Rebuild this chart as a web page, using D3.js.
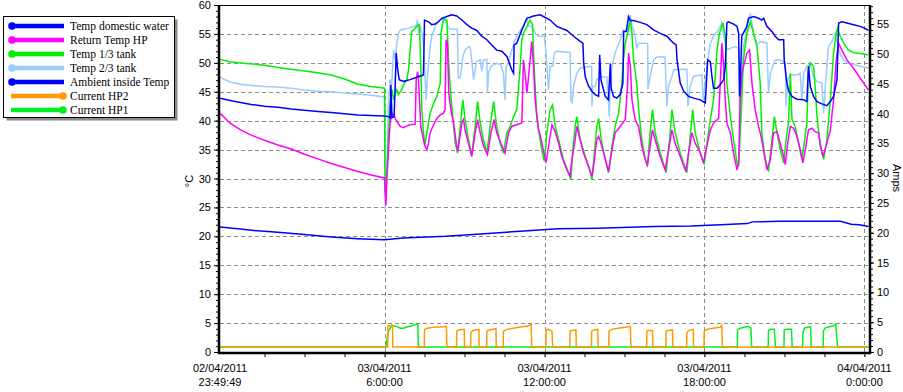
<!DOCTYPE html>
<html lang="en">
<head>
<meta charset="utf-8" />
<title>Heat pump log</title>
<script src="https://d3js.org/d3.v7.min.js"></script>
<style>
  body { margin: 0; background: #fff; }
  svg text { font-family: Arial, "Liberation Sans", sans-serif; fill: #000; }
  .legend text { font-family: "Times New Roman", "Liberation Serif", serif; }
</style>
</head>
<body>
<div id="chart"></div>
<script>
// time in hours from 03/04/2011 0:00, temperatures in degC, currents in Amps
const tempDomestic = [[-0.17,43.9],[0.3,43.4],[1,42.8],[1.5,42.5],[2,42.3],[2.5,42.0],[3,41.8],[3.5,41.6],[4,41.4],[4.5,41.2],[5,41.0],[5.5,40.9],[6.0,40.8],[6.15,40.7],[6.21,40.5],[6.24,46.2],[6.28,40.5],[6.36,40.7],[6.44,51.7],[6.49,49.0],[6.55,47.1],[6.71,46.8],[6.96,47.1],[7.27,47.6],[7.46,47.9],[7.5,57.4],[7.65,57.1],[7.77,56.6],[7.9,56.7],[8.02,57.1],[8.15,57.7],[8.34,58.0],[8.52,58.3],[8.71,58.1],[8.9,57.4],[9.09,56.6],[9.27,56.0],[9.46,55.6],[9.65,54.6],[9.84,54.0],[10.02,53.1],[10.21,52.2],[10.4,52.0],[10.59,51.1],[10.77,48.8],[10.84,48.2],[10.86,53.1],[10.96,53.4],[11.15,55.7],[11.34,57.7],[11.59,58.1],[11.84,58.3],[12.21,57.4],[12.46,56.3],[12.84,55.6],[13.09,54.6],[13.34,53.7],[13.44,53.4],[13.47,49.9],[13.53,47.6],[13.65,46.0],[13.78,45.1],[13.9,44.5],[14.03,44.2],[14.07,51.4],[14.12,47.0],[14.28,44.2],[14.4,43.6],[14.47,49.9],[14.5,45.6],[14.59,44.2],[14.71,43.9],[14.84,44.5],[14.94,46.5],[14.97,55.4],[15.07,55.4],[15.15,58.0],[15.22,57.3],[15.34,57.3],[15.59,57.0],[15.84,56.6],[16.09,55.7],[16.34,55.1],[16.59,54.6],[16.84,53.4],[16.94,53.1],[16.97,50.5],[17.09,46.5],[17.22,45.1],[17.4,44.2],[17.59,43.9],[17.84,43.6],[18.03,43.1],[18.12,50.5],[18.22,50.2],[18.28,47.6],[18.34,45.6],[18.47,45.6],[18.59,46.2],[18.72,47.1],[18.78,49.4],[18.84,56.9],[18.9,57.1],[19.09,56.7],[19.22,56.3],[19.28,55.1],[19.32,44.2],[19.4,54.6],[19.59,56.3],[19.65,57.7],[19.84,58.0],[20.03,57.7],[20.15,57.4],[20.22,57.7],[20.34,56.3],[20.53,55.4],[20.65,54.6],[20.78,54.0],[20.97,54.0],[20.99,50.5],[21.09,46.5],[21.15,45.3],[21.28,44.2],[21.47,43.7],[21.72,43.6],[21.84,43.3],[21.9,49.4],[21.97,45.9],[22.09,44.2],[22.22,43.3],[22.4,42.9],[22.59,42.6],[22.72,43.3],[22.84,44.2],[22.97,47.1],[23.03,56.9],[23.15,57.1],[23.34,56.9],[23.59,56.6],[23.84,56.3],[24.0,56.0],[24.15,55.6]];

const returnTempHP = [[-0.17,41.3],[0.2,39.6],[0.6,38.4],[1,37.5],[1.5,36.6],[2,35.8],[2.5,35.1],[3,34.2],[3.5,33.4],[4,32.6],[4.5,31.9],[5,31.2],[5.5,30.6],[6.0,30.1],[6.05,25.4],[6.09,30.0],[6.15,35.0],[6.21,39.6],[6.27,41.3],[6.34,41.0],[6.46,39.9],[6.59,39.0],[6.71,38.8],[6.84,39.1],[6.96,39.3],[7.15,39.4],[7.19,47.1],[7.24,48.5],[7.27,47.6],[7.31,43.6],[7.36,39.0],[7.46,36.7],[7.52,35.6],[7.59,35.0],[7.65,36.1],[7.71,37.9],[7.84,39.3],[7.96,40.4],[8.09,41.0],[8.21,41.3],[8.27,41.9],[8.31,54.0],[8.36,53.4],[8.41,44.8],[8.49,41.9],[8.59,39.6],[8.69,36.1],[8.75,34.7],[8.81,36.7],[8.9,39.6],[8.96,40.2],[9.02,38.4],[9.15,36.1],[9.27,33.8],[9.4,37.9],[9.49,40.2],[9.59,37.9],[9.71,35.6],[9.86,34.1],[9.99,37.9],[10.11,40.2],[10.21,37.9],[10.36,36.1],[10.52,34.4],[10.65,37.9],[10.77,39.0],[10.96,39.3],[11.15,39.6],[11.21,50.5],[11.27,48.2],[11.34,44.8],[11.44,49.4],[11.52,53.7],[11.59,49.4],[11.65,43.6],[11.77,38.5],[11.84,37.5],[11.96,34.8],[12.06,32.8],[12.19,36.7],[12.28,39.3],[12.4,38.1],[12.53,36.1],[12.65,33.8],[12.84,31.5],[12.96,30.4],[13.03,33.3],[13.15,36.7],[13.21,39.0],[13.34,36.7],[13.46,34.4],[13.65,32.1],[13.78,30.4],[13.84,32.1],[13.96,36.7],[14.03,37.3],[14.15,35.6],[14.28,33.3],[14.4,31.2],[14.53,35.0],[14.65,37.9],[14.84,39.0],[15.03,40.2],[15.12,46.5],[15.15,51.7],[15.22,49.4],[15.28,43.6],[15.4,40.2],[15.53,39.0],[15.65,35.6],[15.78,33.3],[15.86,32.4],[15.96,35.6],[16.05,38.4],[16.15,36.7],[16.34,33.8],[16.53,31.5],[16.65,34.9],[16.78,38.4],[16.9,36.1],[17.09,33.8],[17.3,31.2],[17.4,34.4],[17.53,37.9],[17.65,36.1],[17.84,34.5],[17.96,32.7],[18.09,35.6],[18.22,38.4],[18.34,39.6],[18.53,40.4],[18.62,49.4],[18.65,53.4],[18.72,49.4],[18.78,43.6],[18.84,39.6],[18.97,37.9],[19.09,34.4],[19.22,31.5],[19.28,32.7],[19.34,43.6],[19.4,48.2],[19.59,51.7],[19.69,52.2],[19.78,46.5],[19.9,41.9],[20.03,39.0],[20.15,36.7],[20.34,31.5],[20.47,33.3],[20.59,37.9],[20.72,38.1],[20.84,36.1],[20.97,33.8],[21.03,32.4],[21.12,36.1],[21.22,39.0],[21.34,38.7],[21.47,37.3],[21.59,35.0],[21.69,32.7],[21.78,35.0],[21.9,38.4],[22.03,38.7],[22.15,38.1],[22.28,37.9],[22.34,36.1],[22.44,33.8],[22.56,35.6],[22.72,38.4],[22.84,43.6],[22.94,50.5],[23.03,53.4],[23.15,52.2],[23.34,50.5],[23.53,49.4],[23.72,48.2],[23.97,46.5],[24.15,45.3]];

const tempTank13 = [[-0.17,50.6],[0.2,50.2],[0.8,49.9],[1.5,49.6],[2,49.2],[2.5,48.9],[3,48.6],[3.5,48.3],[4,47.9],[4.5,47.2],[5,46.3],[5.5,45.9],[6.0,45.6],[6.02,27.5],[6.09,31.0],[6.15,37.9],[6.21,42.5],[6.28,45.4],[6.34,43.6],[6.4,44.8],[6.46,45.4],[6.52,44.5],[6.65,45.4],[6.71,46.2],[6.84,47.1],[6.9,48.8],[6.96,52.2],[7.02,55.4],[7.09,55.7],[7.21,56.3],[7.31,56.6],[7.36,49.4],[7.4,41.9],[7.46,37.9],[7.52,35.9],[7.59,37.9],[7.71,41.3],[7.84,43.0],[7.96,44.2],[8.09,46.5],[8.12,55.1],[8.21,57.7],[8.34,57.4],[8.4,50.5],[8.46,45.9],[8.56,40.7],[8.65,36.1],[8.74,34.4],[8.84,39.0],[8.94,43.6],[9.02,40.2],[9.15,36.7],[9.27,34.1],[9.4,39.0],[9.49,43.3],[9.59,39.6],[9.71,36.7],[9.84,34.4],[9.96,39.0],[10.09,43.3],[10.21,39.0],[10.34,36.1],[10.46,34.4],[10.59,37.9],[10.71,39.0],[10.84,40.7],[10.96,41.9],[11.09,49.4],[11.15,54.0],[11.21,55.1],[11.34,56.3],[11.46,57.4],[11.55,56.6],[11.61,49.4],[11.71,40.7],[11.84,36.5],[11.96,33.5],[12.0,33.0],[12.09,37.9],[12.21,41.9],[12.3,42.7],[12.4,39.0],[12.53,36.7],[12.71,33.3],[12.9,31.0],[12.99,29.8],[13.06,35.0],[13.15,39.0],[13.21,40.7],[13.34,36.7],[13.53,33.8],[13.69,31.5],[13.78,29.8],[13.87,34.4],[13.96,39.0],[14.03,40.4],[14.15,36.1],[14.28,33.3],[14.4,31.0],[14.53,35.6],[14.65,39.0],[14.78,41.3],[14.9,46.5],[14.96,50.5],[15.03,53.4],[15.12,55.1],[15.22,57.4],[15.28,55.1],[15.34,50.5],[15.46,46.5],[15.53,41.9],[15.65,36.7],[15.78,33.3],[15.86,32.1],[15.96,37.9],[16.05,41.9],[16.15,37.9],[16.34,34.4],[16.56,31.0],[16.69,36.7],[16.78,41.9],[16.9,37.9],[17.09,34.4],[17.34,31.0],[17.44,36.1],[17.56,41.9],[17.65,37.9],[17.84,34.4],[17.99,32.4],[18.09,36.1],[18.22,40.2],[18.34,43.6],[18.47,52.2],[18.56,55.1],[18.69,56.9],[18.78,54.6],[18.84,46.5],[18.97,40.7],[19.09,36.7],[19.22,32.7],[19.28,32.1],[19.4,43.6],[19.46,50.5],[19.59,55.1],[19.72,57.1],[19.84,55.1],[19.97,52.8],[20.09,46.5],[20.15,37.9],[20.28,33.3],[20.4,31.2],[20.53,36.7],[20.62,40.7],[20.72,37.9],[20.84,35.0],[20.97,32.7],[21.06,36.7],[21.15,39.6],[21.22,48.2],[21.28,40.2],[21.4,39.0],[21.53,36.1],[21.65,33.3],[21.74,36.1],[21.84,39.6],[21.9,48.8],[21.97,50.0],[22.09,49.4],[22.15,45.9],[22.22,40.7],[22.34,35.6],[22.47,33.3],[22.59,36.7],[22.72,43.6],[22.84,51.7],[22.94,55.1],[22.99,56.0],[23.09,54.6],[23.22,53.4],[23.4,52.2],[23.59,51.8],[23.84,51.6],[24.15,51.4]];

const tempTank23 = [[-0.17,47.5],[0.2,46.7],[0.6,46.3],[1,46.1],[1.5,45.9],[2,45.8],[2.5,45.6],[3,45.3],[3.5,45.1],[4,45.0],[4.5,44.8],[5,44.6],[5.5,44.4],[6.0,44.1],[6.03,24.6],[6.09,30.9],[6.15,43.6],[6.21,47.1],[6.27,46.2],[6.34,52.2],[6.4,50.5],[6.46,53.4],[6.52,55.1],[6.59,55.7],[6.71,55.8],[6.9,56.0],[7.09,56.3],[7.19,56.4],[7.24,57.4],[7.27,55.1],[7.34,56.3],[7.4,55.1],[7.46,53.4],[7.52,47.6],[7.56,43.6],[7.61,47.6],[7.71,52.8],[7.77,54.6],[7.9,56.3],[8.02,57.1],[8.15,57.7],[8.27,57.4],[8.4,56.0],[8.52,55.8],[8.73,55.8],[8.77,47.4],[8.84,47.4],[8.94,51.1],[9.02,52.2],[9.15,52.8],[9.21,52.8],[9.27,50.5],[9.34,47.1],[9.4,48.8],[9.46,50.2],[9.59,50.5],[9.65,48.5],[9.71,50.5],[9.84,50.6],[9.86,44.8],[9.9,48.2],[9.99,49.4],[10.09,49.7],[10.21,49.9],[10.36,49.7],[10.46,48.2],[10.52,43.6],[10.56,49.4],[10.65,49.9],[10.77,52.2],[10.9,54.0],[11.02,55.1],[11.21,56.3],[11.34,57.7],[11.4,56.3],[11.52,56.3],[11.65,55.1],[11.77,54.6],[11.99,54.6],[12.06,51.7],[12.15,45.4],[12.21,49.4],[12.31,49.4],[12.37,51.7],[12.46,52.0],[12.96,51.8],[12.99,43.6],[13.03,43.0],[13.09,45.9],[13.21,48.2],[13.34,49.1],[13.77,49.4],[13.78,42.5],[13.81,45.9],[13.9,45.9],[13.96,47.1],[14.09,47.6],[14.34,47.5],[14.43,40.7],[14.46,45.9],[14.53,49.4],[14.65,51.7],[14.84,54.0],[14.96,55.7],[15.15,55.7],[15.22,58.3],[15.28,56.6],[15.4,54.6],[15.46,52.5],[15.53,53.4],[15.65,53.4],[15.87,53.4],[15.88,45.4],[15.96,47.6],[16.09,50.5],[16.21,51.0],[16.52,51.0],[16.59,42.5],[16.65,45.9],[16.78,47.7],[16.84,48.8],[17.34,48.9],[17.38,42.5],[17.46,45.9],[17.59,47.7],[17.9,47.9],[17.96,43.6],[18.09,49.4],[18.22,53.4],[18.34,54.6],[18.53,55.7],[18.65,56.9],[18.72,54.6],[18.84,52.3],[18.97,52.5],[19.15,52.8],[19.28,52.5],[19.32,39.6],[19.37,46.5],[19.47,52.8],[19.59,56.3],[19.72,58.6],[19.84,55.1],[19.97,53.1],[20.09,53.7],[20.34,53.4],[20.4,44.8],[20.47,48.2],[20.65,50.5],[20.84,50.5],[21.03,49.9],[21.06,42.5],[21.12,47.1],[21.22,47.9],[21.47,47.9],[21.59,48.2],[21.65,43.6],[21.72,48.2],[21.84,49.4],[21.97,49.9],[22.09,47.6],[22.22,46.8],[22.4,46.5],[22.47,41.3],[22.53,45.9],[22.65,52.8],[22.78,53.7],[22.9,55.1],[22.97,53.7],[23.09,51.4],[23.22,50.5],[23.4,49.9],[23.59,49.7],[23.84,49.4],[24.15,49.1]];

const ambientTemp = [[-0.17,21.6],[0.5,21.3],[1.1,21.0],[2,20.7],[3,20.3],[4,19.9],[5,19.6],[6,19.4],[6.7,19.7],[8.3,20.0],[9.6,20.4],[11.1,20.9],[12.5,21.3],[14,21.4],[16.1,21.7],[17.5,21.8],[18.6,22.0],[19.6,22.2],[19.8,22.5],[20.8,22.6],[23.1,22.6],[23.5,22.1],[23.8,22.0],[24.15,21.7]];

const currentHP2 = [[-0.17,0.85],[6.12,0.85],[6.13,4.4],[6.3,4.5],[6.31,0.85],[7.49,0.85],[7.5,3.7],[7.59,4.0],[7.77,4.1],[7.96,4.2],[8.15,4.2],[8.32,4.3],[8.34,0.85],[8.7,0.85],[8.71,3.5],[8.77,3.7],[8.99,3.8],[9.0,0.85],[9.23,0.85],[9.24,3.2],[9.31,3.6],[9.54,3.8],[9.55,0.85],[9.83,0.85],[9.84,3.5],[9.94,3.7],[10.18,3.9],[10.19,0.85],[10.45,0.85],[10.46,3.5],[10.59,3.8],[10.84,4.0],[11.09,4.2],[11.34,4.3],[11.5,4.6],[11.52,0.85],[12.05,0.85],[12.06,3.7],[12.15,3.8],[12.28,3.5],[12.31,0.85],[12.95,0.85],[12.96,3.5],[13.04,3.6],[13.18,3.7],[13.19,0.85],[13.76,0.85],[13.77,3.5],[13.86,3.7],[14.0,3.8],[14.01,0.85],[14.41,0.85],[14.42,3.5],[14.52,3.8],[14.77,4.0],[15.09,4.2],[15.22,4.3],[15.24,0.85],[15.83,0.85],[15.84,3.5],[15.9,3.6],[16.05,3.6],[16.06,0.85],[16.55,0.85],[16.56,3.5],[16.65,3.6],[16.8,3.7],[16.81,0.85],[17.33,0.85],[17.34,3.2],[17.4,3.6],[17.58,3.8],[17.59,0.85],[17.98,0.85],[17.99,3.5],[18.09,3.8],[18.34,4.0],[18.59,4.2],[18.65,4.5],[18.67,0.85],[24.15,0.85]];

const currentHP1 = [[-0.17,0.85],[6.05,0.85],[6.1,2.3],[6.15,3.5],[6.24,4.2],[6.34,4.4],[6.46,4.3],[6.59,4.0],[6.71,4.0],[6.84,4.2],[7.02,4.4],[7.15,4.6],[7.25,4.7],[7.27,0.85],[19.23,0.85],[19.24,3.7],[19.34,4.0],[19.53,4.2],[19.65,4.3],[19.74,4.0],[19.77,0.85],[20.39,0.85],[20.4,3.6],[20.47,3.8],[20.62,3.8],[20.66,0.85],[20.98,0.85],[20.99,3.7],[21.09,3.8],[21.26,3.8],[21.29,0.85],[21.68,0.85],[21.69,3.2],[21.75,4.0],[21.9,4.2],[21.98,4.2],[22.0,0.85],[22.45,0.85],[22.46,3.5],[22.52,4.0],[22.65,4.2],[22.84,4.4],[22.92,4.7],[22.99,0.85],[24.15,0.85]];

const seriesNames = ['Temp domestic water', 'Return Temp HP', 'Temp 1/3 tank', 'Temp 2/3 tank', 'Ambient inside Temp', 'Current HP2', 'Current HP1'];
const xLabelTimes = [new Date(2011, 3, 2, 23, 49, 49), new Date(2011, 3, 3, 6), new Date(2011, 3, 3, 12), new Date(2011, 3, 3, 18), new Date(2011, 3, 4, 0)];
const leftTicks = d3.range(0, 61, 5);
const rightTicks = d3.range(0, 56, 5);

const width = 903, height = 392;
const plotLeft = 220, plotRight = 869, plotTop = 5, plotBottom = 352;

const base = new Date(2011, 3, 3, 0, 0, 0);
const toDate = h => new Date(base.getTime() + h * 3600000);

const series = [
    { name: seriesNames[0], data: tempDomestic, color: '#0000ff', axis: 'L', marker: 'start' },
    { name: seriesNames[1], data: returnTempHP, color: '#ff00ff', axis: 'L', marker: 'start' },
    { name: seriesNames[2], data: tempTank13, color: '#00f000', axis: 'L', marker: 'start' },
    { name: seriesNames[3], data: tempTank23, color: '#99ccff', axis: 'L', marker: 'start' },
    { name: seriesNames[4], data: ambientTemp, color: '#0000ff', axis: 'L', marker: 'start' },
    { name: seriesNames[5], data: currentHP2, color: '#ff9900', axis: 'R', marker: 'end' },
    { name: seriesNames[6], data: currentHP1, color: '#00f020', axis: 'R', marker: 'end' }
];

const x = d3.scaleTime()
    .domain([new Date(2011, 3, 2, 23, 49, 49), new Date(2011, 3, 4, 0, 10, 11)])
    .range([plotLeft, plotRight]);
const yL = d3.scaleLinear().domain([0, 60]).range([plotBottom, plotTop]);
const yR = d3.scaleLinear().domain([0, 58.2]).range([plotBottom, plotTop]);

const svg = d3.select('#chart').append('svg')
    .attr('width', width)
    .attr('height', height);

svg.append('rect').attr('width', width).attr('height', height).attr('fill', '#fff');

svg.append('defs').append('clipPath').attr('id', 'plot')
    .append('rect')
    .attr('x', plotLeft).attr('y', plotTop)
    .attr('width', plotRight - plotLeft).attr('height', plotBottom - plotTop);

// grid
const grid = svg.append('g')
    .attr('stroke', '#8c8c8c')
    .attr('stroke-dasharray', '4,3');
grid.selectAll('line.h')
    .data(leftTicks.filter(d => d > 0 && d < 60))
    .enter().append('line')
    .attr('x1', plotLeft).attr('x2', plotRight)
    .attr('y1', d => Math.round(yL(d)) + 0.5).attr('y2', d => Math.round(yL(d)) + 0.5);
grid.selectAll('line.v')
    .data([6, 12, 18, 24])
    .enter().append('line')
    .attr('x1', d => Math.round(x(toDate(d))) + 0.5)
    .attr('x2', d => Math.round(x(toDate(d))) + 0.5)
    .attr('y1', plotTop).attr('y2', plotBottom + 5);

// lines, first legend entry drawn on top
const plot = svg.append('g').attr('clip-path', 'url(#plot)');
series.slice().reverse().forEach(s => {
    const yScale = s.axis === 'L' ? yL : yR;
    const line = d3.line()
        .x(d => x(toDate(d[0])))
        .y(d => yScale(d[1]));
    plot.append('path')
        .datum(s.data)
        .attr('fill', 'none')
        .attr('stroke', s.color)
        .attr('stroke-width', 1.5)
        .attr('d', line);
});

// axes
svg.append('g')
    .attr('transform', `translate(${plotLeft - 1},0)`)
    .call(d3.axisLeft(yL).tickValues(leftTicks).tickSize(5).tickPadding(3));
svg.append('g')
    .attr('transform', `translate(${plotLeft - 1},0)`)
    .call(d3.axisLeft(yL).tickValues(d3.range(0, 61, 1)).tickSize(3).tickFormat(''));

svg.append('g')
    .attr('transform', `translate(${plotRight + 1},0)`)
    .call(d3.axisRight(yR).tickValues(rightTicks).tickSize(4).tickPadding(3));
svg.append('g')
    .attr('transform', `translate(${plotRight + 1},0)`)
    .call(d3.axisRight(yR).tickValues(d3.range(0, 59, 1)).tickSize(3).tickFormat(''));

svg.append('g')
    .attr('transform', `translate(0,${plotBottom + 1})`)
    .call(d3.axisBottom(x)
        .tickValues(d3.range(1.5, 24.1, 1.5).map(toDate))
        .tickSize(4)
        .tickFormat(''));

svg.selectAll('.domain').remove();
svg.selectAll('.tick line').attr('stroke', '#000');
svg.selectAll('.tick text').style('font-size', '11px').attr('fill', '#000');

// frame
svg.append('line').attr('x1', plotLeft).attr('x2', plotRight).attr('y1', plotTop + 0.5).attr('y2', plotTop + 0.5)
    .attr('stroke', '#000').attr('stroke-width', 1);
svg.append('line').attr('x1', plotLeft - 1).attr('x2', plotLeft - 1).attr('y1', plotTop).attr('y2', plotBottom + 2)
    .attr('stroke', '#000').attr('stroke-width', 2.5);
svg.append('line').attr('x1', plotRight + 1).attr('x2', plotRight + 1).attr('y1', plotTop).attr('y2', plotBottom + 2)
    .attr('stroke', '#000').attr('stroke-width', 2.5);
svg.append('line').attr('x1', plotLeft - 2).attr('x2', plotRight + 2).attr('y1', plotBottom + 1).attr('y2', plotBottom + 1)
    .attr('stroke', '#000').attr('stroke-width', 2.5);

// x labels
const fmtDay = d3.timeFormat('%d/%m/%Y');
const fmtTime = d3.timeFormat('%-H:%M:%S');
const xLabels = svg.append('g').style('font-size', '11px').attr('text-anchor', 'middle');
xLabelTimes.forEach(t => {
    xLabels.append('text').attr('x', x(t)).attr('y', 372).text(fmtDay(t));
    xLabels.append('text').attr('x', x(t)).attr('y', 386).text(fmtTime(t));
});

// axis titles
svg.append('text')
    .attr('transform', 'translate(193,181) rotate(-90)')
    .attr('text-anchor', 'middle')
    .style('font-size', '11px')
    .text('°C');
svg.append('text')
    .attr('transform', 'translate(893,178) rotate(90)')
    .attr('text-anchor', 'middle')
    .style('font-size', '11px')
    .text('Amps');

// legend
const legend = svg.append('g').attr('class', 'legend');
legend.append('rect')
    .attr('x', 6.5).attr('y', 19.5).attr('width', 171).attr('height', 101)
    .attr('fill', '#8a8a8a');
legend.append('rect')
    .attr('x', 3.5).attr('y', 16.5).attr('width', 171).attr('height', 101)
    .attr('fill', '#fff').attr('stroke', '#000');

const rows = legend.selectAll('g.row')
    .data(series)
    .enter().append('g')
    .attr('transform', (d, i) => `translate(0,${26 + i * 14})`);
rows.append('line')
    .attr('x1', 11).attr('x2', 64)
    .attr('stroke', d => d.color)
    .attr('stroke-width', 4.5);
rows.append('circle')
    .attr('cx', d => d.marker === 'start' ? 12 : 63)
    .attr('r', 3.8)
    .attr('fill', d => d.color);
rows.append('text')
    .attr('x', 70).attr('y', 4)
    .style('font-size', '11.5px')
    .text(d => d.name);
</script>
</body>
</html>
